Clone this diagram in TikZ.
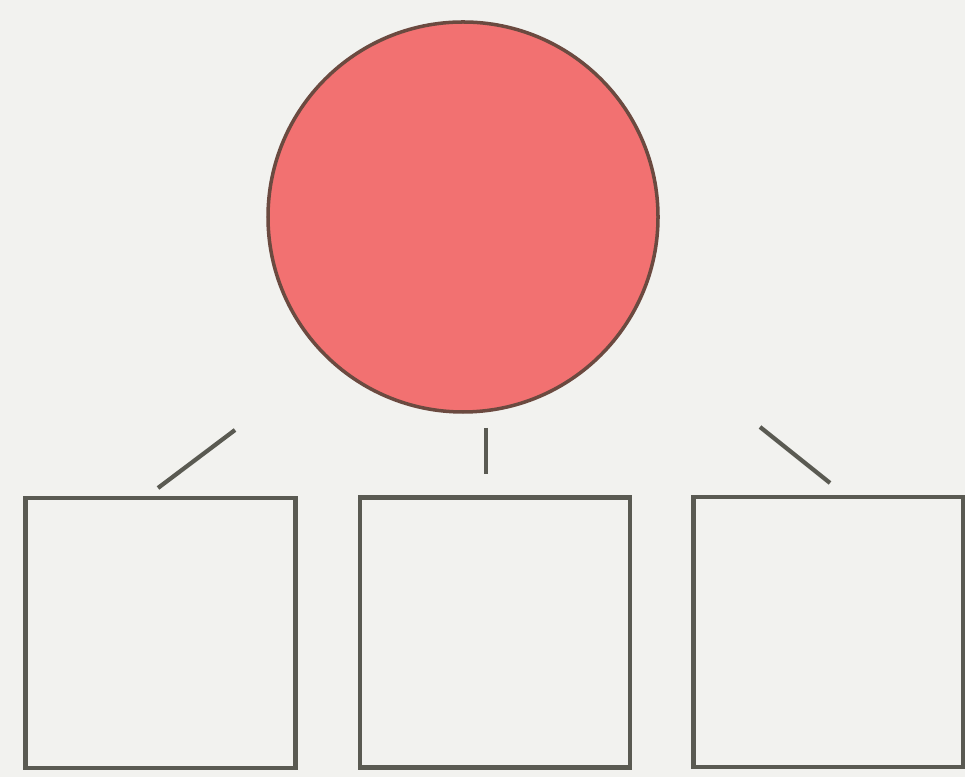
\documentclass[tikz,border=0pt]{standalone}
\usepackage{xcolor}
\usepackage{tikz}
\usetikzlibrary{backgrounds}
\definecolor{paper}{HTML}{F2F2EF}
\definecolor{ink}{HTML}{5A5A52}
\definecolor{rim}{HTML}{6B4A40}
\definecolor{salmon}{HTML}{F27171}

\begin{document}
\begin{tikzpicture}[
  root/.style={circle,draw=rim,fill=salmon,line width=1pt,minimum size=3.9cm,inner sep=0pt},
  leaf/.style={draw=ink,fill=paper,line width=1.3pt,minimum width=2.7cm,minimum height=2.7cm,inner sep=0pt},
  tie/.style={draw=ink,line width=1.2pt}
]
\fill[paper] (0,0) rectangle (9.65,7.77);
\useasboundingbox (0,0) rectangle (9.65,7.77);

\node[root] (top) at (4.63,5.60) {};
\node[leaf] (left)  at (1.605,1.44) {};
\node[leaf] (mid)   at (4.95,1.445) {};
\node[leaf] (right) at (8.285,1.45) {};

\coordinate (lt) at (2.35,3.47);
\coordinate (lb) at (1.58,2.89);
\coordinate (mt) at (4.86,3.49);
\coordinate (mb) at (4.86,3.03);
\coordinate (rt) at (7.60,3.50);
\coordinate (rb) at (8.30,2.94);

\draw[tie] (lt) -- (lb);
\draw[tie] (mt) -- (mb);
\draw[tie] (rt) -- (rb);
\end{tikzpicture}
\end{document}
